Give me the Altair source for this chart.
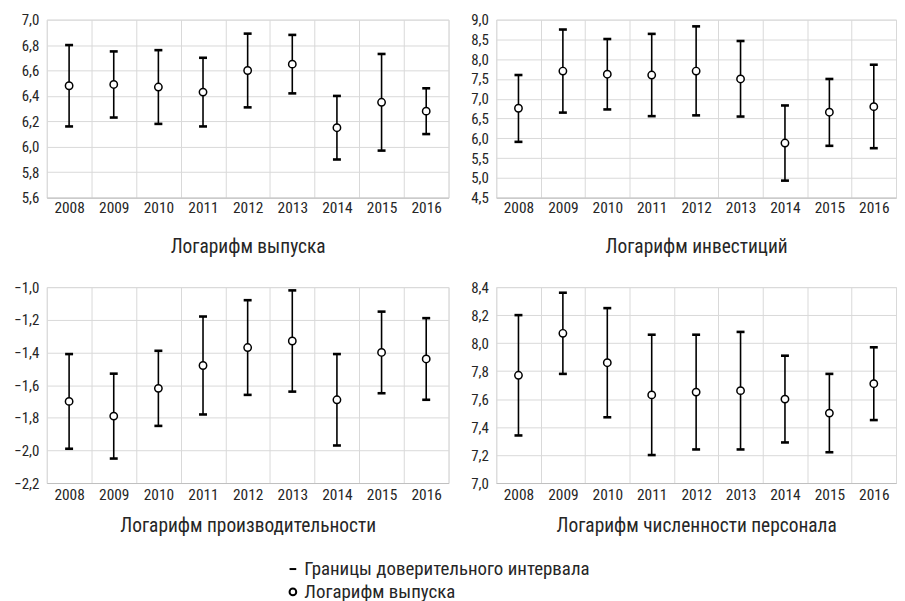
import altair as alt
import pandas as pd

years = ["2008", "2009", "2010", "2011", "2012", "2013", "2014", "2015", "2016"]

# Логарифм выпуска
out_mean = [6.48, 6.49, 6.47, 6.43, 6.60, 6.65, 6.15, 6.35, 6.28]
out_low = [6.16, 6.23, 6.18, 6.16, 6.31, 6.42, 5.90, 5.97, 6.10]
out_high = [6.80, 6.75, 6.76, 6.70, 6.89, 6.88, 6.40, 6.73, 6.46]
out_ticks = [5.6, 5.8, 6.0, 6.2, 6.4, 6.6, 6.8, 7.0]

# Логарифм инвестиций
inv_mean = [6.76, 7.70, 7.62, 7.60, 7.70, 7.50, 5.88, 6.66, 6.80]
inv_low = [5.91, 6.65, 6.73, 6.56, 6.58, 6.55, 4.93, 5.81, 5.75]
inv_high = [7.60, 8.75, 8.51, 8.64, 8.83, 8.46, 6.83, 7.50, 7.86]
inv_ticks = [4.5, 5.0, 5.5, 6.0, 6.5, 7.0, 7.5, 8.0, 8.5, 9.0]

# Логарифм производительности
prod_mean = [-1.70, -1.79, -1.62, -1.48, -1.37, -1.33, -1.69, -1.40, -1.44]
prod_low = [-1.99, -2.05, -1.85, -1.78, -1.66, -1.64, -1.97, -1.65, -1.69]
prod_high = [-1.41, -1.53, -1.39, -1.18, -1.08, -1.02, -1.41, -1.15, -1.19]
prod_ticks = [-2.2, -2.0, -1.8, -1.6, -1.4, -1.2, -1.0]

# Логарифм численности персонала
staff_mean = [7.77, 8.07, 7.86, 7.63, 7.65, 7.66, 7.60, 7.50, 7.71]
staff_low = [7.34, 7.78, 7.47, 7.20, 7.24, 7.24, 7.29, 7.22, 7.45]
staff_high = [8.20, 8.36, 8.25, 8.06, 8.06, 8.08, 7.91, 7.78, 7.97]
staff_ticks = [7.0, 7.2, 7.4, 7.6, 7.8, 8.0, 8.2, 8.4]

SERIES_CI = "Границы доверительного интервала"
SERIES_PT = "Логарифм выпуска"

FONT = "'Roboto Condensed', 'Liberation Sans Narrow', 'DejaVu Sans Condensed', sans-serif"
GRID = "#d9d9d9"
TXT = "#262626"

shape_scale = alt.Scale(domain=[SERIES_CI, SERIES_PT], range=["M-1,0H1", "circle"])
legend = alt.Legend(
    orient="none", legendX=238, legendY=543, title=None,
    labelFont=FONT, labelFontSize=19, labelColor=TXT, labelLimit=0,
    symbolStrokeColor="black", symbolFillColor="white", symbolStrokeWidth=2,
    symbolSize=45, rowPadding=3, labelOffset=2,
)


def panel(title, mean, low, high, ticks, w, h, label_pad, title_pad):
    df = pd.DataFrame({
        "year": years, "mean": mean, "low": low, "high": high,
        "ci": [SERIES_CI] * len(years), "pt": [SERIES_PT] * len(years),
    })
    x = alt.X(
        "year:O",
        title=title,
        scale=alt.Scale(type="band", paddingInner=0, paddingOuter=0),
        axis=alt.Axis(
            tickBand="extent", labelAngle=0, ticks=False, grid=True,
            gridColor=GRID, domainColor="#bfbfbf", labelPadding=label_pad,
            titlePadding=title_pad, titleFontSize=19.5, titleFontWeight="normal",
            labelFontSize=15.5, labelColor=TXT, titleColor=TXT,
            labelFont=FONT, titleFont=FONT,
        ),
    )
    yscale = alt.Scale(domain=[ticks[0], ticks[-1]], nice=False, zero=False)
    yaxis = alt.Axis(
        values=ticks, domain=False, ticks=False, gridColor=GRID,
        labelExpr="replace(format(datum.value, '.1f'), '.', ',')",
        labelOverlap=False, labelFontSize=15, labelColor=TXT, labelFont=FONT,
        labelPadding=8,
    )

    def yenc(field):
        return alt.Y(field, type="quantitative", title=None, scale=yscale, axis=yaxis)

    base = alt.Chart(df)
    rule = base.mark_rule(color="black", strokeWidth=1.6).encode(
        x=x, y=yenc("low"), y2="high:Q"
    )
    cap_lo = base.mark_point(filled=False, color="black", strokeWidth=2.6, size=64, opacity=1).encode(
        x=x, y=yenc("low"),
        shape=alt.Shape("ci:N", scale=shape_scale, legend=legend),
    )
    cap_hi = base.mark_point(filled=False, color="black", strokeWidth=2.6, size=64, opacity=1).encode(
        x=x, y=yenc("high"),
        shape=alt.Shape("ci:N", scale=shape_scale, legend=legend),
    )
    pts = base.mark_point(filled=True, fill="white", stroke="black", strokeWidth=1.5, size=55, opacity=1).encode(
        x=x, y=yenc("mean"),
        shape=alt.Shape("pt:N", scale=shape_scale, legend=legend),
    )
    return alt.layer(rule, cap_lo, cap_hi, pts).properties(width=w, height=h)


p1 = panel("Логарифм выпуска", out_mean, out_low, out_high, out_ticks, 404, 179, 3, 22)
p2 = panel("Логарифм инвестиций", inv_mean, inv_low, inv_high, inv_ticks, 402, 179, 3, 22)
p3 = panel("Логарифм производительности", prod_mean, prod_low, prod_high, prod_ticks, 404, 197, 5, 13)
p4 = panel("Логарифм численности персонала", staff_mean, staff_low, staff_high, staff_ticks, 402, 197, 5, 13)

chart = alt.vconcat(
    alt.hconcat(p1, p2, spacing=20),
    alt.hconcat(p3, p4, spacing=20),
    spacing=22,
).properties(
    padding={"left": 5, "top": 2, "right": 0, "bottom": 10}
).configure_view(stroke=None).configure(font=FONT)

chart.save("out.html", embed_options={"renderer": "svg", "actions": False})
